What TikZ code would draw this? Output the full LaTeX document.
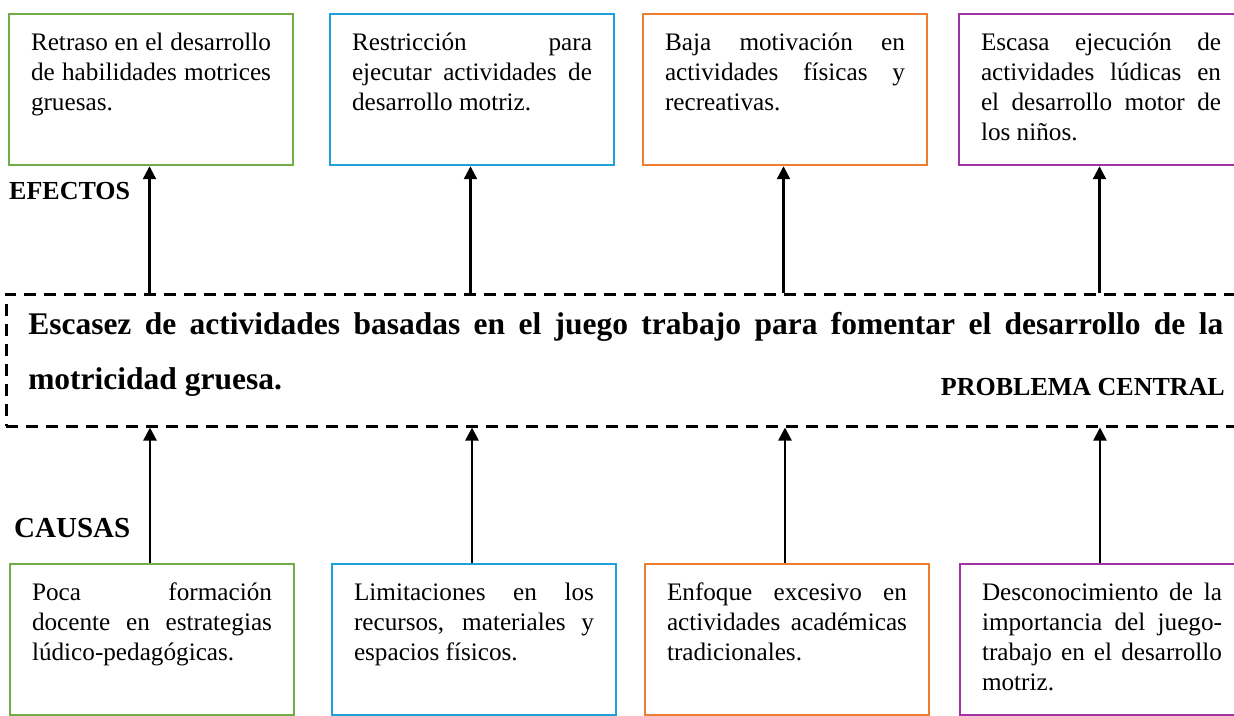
\documentclass[tikz,border=0pt]{standalone}
\usepackage{fontspec}
\setmainfont{Liberation Serif}
\usetikzlibrary{
  arrows.meta,
  positioning,
  calc
}
\definecolor{boxGreen}{RGB}{112,173,71}
\definecolor{boxBlue}{RGB}{30,160,219}
\definecolor{boxOrange}{RGB}{237,125,49}
\definecolor{boxPurple}{RGB}{160,52,164}
\newcommand{\boxtext}[1]{%
  \parbox[c][121pt][t]{240pt}{\hyphenpenalty=10000\tolerance=10000\hbadness=10000\strut #1}}
\tikzset{
  treebox/.style={
    draw=#1,
    line width=2.2pt,
    inner xsep=22pt,
    inner ysep=15pt,
    font=\fontsize{25.2}{30}\selectfont
  },
  sidelabel/.style={
    inner sep=0pt,
    font=\bfseries\fontsize{#1}{#1}\selectfont
  }
}

\begin{document}
\begin{tikzpicture}[
      x=1pt, y=-1pt,
      >={Triangle[length=13pt,width=13pt]},
      link/.style={->, line width=2.3pt}
      ]
      \useasboundingbox (0,0) rectangle (1234,715);
      \clip (0,0) rectangle (1234,715);

      % problema central
      \node[draw, line width=2.5pt, dash pattern=on 12pt off 8pt,
        anchor=north west, inner xsep=22pt, inner ysep=1.5pt] (prob) at (5,293)
        {\parbox[c][129pt][t]{1195pt}{\bfseries\fontsize{31.5}{55}\selectfont
          \hyphenpenalty=10000\tolerance=10000\hbadness=10000\strut
          Escasez de actividades basadas en el juego trabajo para fomentar el desarrollo de la\linebreak
          motricidad gruesa.}};
      \node[sidelabel=26, anchor=base east] (pc) at (1225,395) {PROBLEMA CENTRAL};

      % efectos
      \foreach \i/\x/\col/\txt in {
        1/151/boxGreen/{Retraso en el desarrollo\linebreak de habilidades motrices\linebreak gruesas.},
        2/472/boxBlue/{Restricción para\linebreak ejecutar actividades de\linebreak desarrollo motriz.},
        3/785/boxOrange/{Baja motivación en\linebreak actividades físicas y\linebreak recreativas.},
        4/1101/boxPurple/{Escasa ejecución de\linebreak actividades lúdicas en\linebreak el desarrollo motor de\linebreak los niños.}}{
        \node[treebox=\col, anchor=north] (e\i) at (\x,13) {\boxtext{\txt}};
        \draw[link] ([xshift=-1.5pt]e\i.south |- prob.north) -- ([xshift=-1.5pt]e\i.south);
      }
      \node[sidelabel=26, anchor=base west] (efectos) at (9,199) {EFECTOS};

      % causas
      \foreach \i/\x/\col/\txt in {
        1/152/boxGreen/{Poca formación\linebreak docente en estrategias\linebreak lúdico-pedagógicas.},
        2/474/boxBlue/{Limitaciones en los\linebreak recursos, materiales y\linebreak espacios físicos.},
        3/787/boxOrange/{Enfoque excesivo en\linebreak actividades académicas\linebreak tradicionales.},
        4/1102/boxPurple/{Desconocimiento de la\linebreak importancia del juego-\linebreak trabajo en el desarrollo\linebreak motriz.}}{
        \node[treebox=\col, anchor=north] (c\i) at (\x,563) {\boxtext{\txt}};
        \draw[link] ([xshift=-2pt]c\i.north) -- ([xshift=-2pt]c\i.north |- prob.south);
      }
      \node[sidelabel=29, anchor=base west] (causas) at (14,537) {CAUSAS};
    \end{tikzpicture}
\end{document}
